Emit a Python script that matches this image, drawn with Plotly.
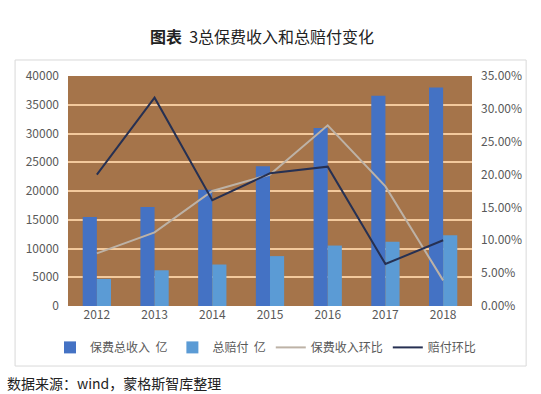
import plotly.graph_objects as go

years = ["2012", "2013", "2014", "2015", "2016", "2017", "2018"]
premium = [15488, 17222, 20235, 24283, 30959, 36581, 38017]
claims = [4716, 6213, 7216, 8674, 10513, 11181, 12298]
premium_growth = [0.080, 0.112, 0.175, 0.200, 0.275, 0.182, 0.039]
claims_growth = [0.200, 0.317, 0.161, 0.202, 0.212, 0.064, 0.100]

font_cjk = "Noto Sans CJK SC, Microsoft YaHei, sans-serif"
tick_color = "#595959"

fig = go.Figure()
fig.add_trace(go.Bar(x=years, y=premium, name="保费总收入  亿",
                     marker=dict(color="#4472C4", line=dict(width=0))))
fig.add_trace(go.Bar(x=years, y=claims, name="总赔付  亿",
                     marker=dict(color="#5B9BD5", line=dict(width=0))))
fig.add_trace(go.Scatter(x=years, y=premium_growth, name="保费收入环比", yaxis="y2",
                         mode="lines", line=dict(color="#BDB2A6", width=2)))
fig.add_trace(go.Scatter(x=years, y=claims_growth, name="赔付环比", yaxis="y2",
                         mode="lines", line=dict(color="#263052", width=2)))

fig.update_layout(
    width=541, height=394,
    margin=dict(l=68, r=69, t=76, b=88),
    paper_bgcolor="white",
    plot_bgcolor="#A5744A",
    barmode="group",
    bargap=0.51, bargroupgap=0,
    font=dict(family=font_cjk, size=12, color=tick_color),
    xaxis=dict(showgrid=False, ticks="", tickfont=dict(size=12, color=tick_color),
               showline=False, zeroline=False),
    yaxis=dict(range=[0, 40000], dtick=5000, showgrid=True, gridcolor="#F3C99C",
               gridwidth=2, zeroline=False, ticks="", tickformat="d",
               tickfont=dict(size=12, color=tick_color), ticklabelstandoff=8),
    yaxis2=dict(range=[0, 0.35], dtick=0.05, tickformat=".2%", overlaying="y",
                side="right", showgrid=False, zeroline=False, ticks="",
                tickfont=dict(size=12, color=tick_color), ticklabelstandoff=8),
    legend=dict(orientation="h", x=(50 - 68) / 404, xanchor="left", y=-0.18, yanchor="middle",
                font=dict(size=12, color=tick_color), itemwidth=30,
                tracegroupgap=0, bgcolor="rgba(0,0,0,0)"),
    showlegend=True,
)

fig.add_shape(type="rect", xref="paper", yref="paper",
              x0=-0.131, x1=1.134, y0=-0.261, y1=1.0696,
              line=dict(color="#D9D9D9", width=1), fillcolor="rgba(0,0,0,0)",
              layer="below")

fig.add_annotation(text="<b>图表</b>  3总保费收入和总赔付变化", xref="paper", yref="paper",
                   x=(262 - 68) / 404, y=(306 - 36) / 230, xanchor="center", yanchor="middle",
                   showarrow=False, font=dict(size=16, color="#222222", family=font_cjk))
fig.add_annotation(text="数据来源：wind，蒙格斯智库整理", xref="paper", yref="paper",
                   x=(5 - 68) / 404, y=(306 - 383) / 230, xanchor="left", yanchor="middle",
                   showarrow=False, font=dict(size=14, color="#222222", family=font_cjk))

fig.write_html("out.html", post_script="document.body.style.margin='0';",
               config={"displayModeBar": False})
